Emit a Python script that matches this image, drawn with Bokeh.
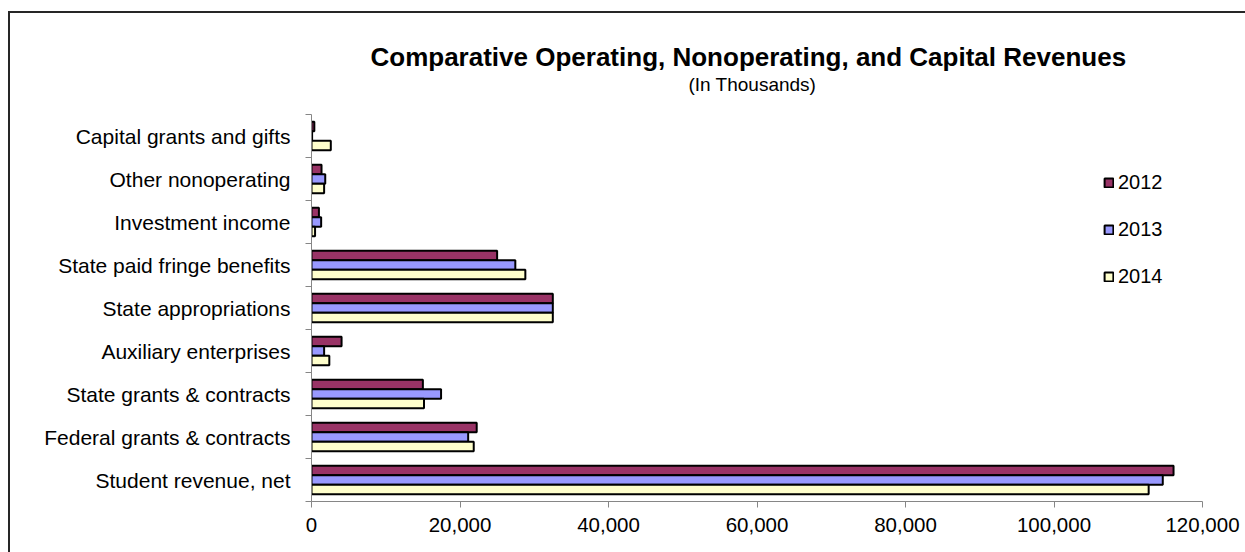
from bokeh.plotting import figure
from bokeh.models import (Range1d, FixedTicker, NumeralTickFormatter, Legend,
                          LegendItem, Title, ColumnDataSource, InlineStyleSheet)
from bokeh.transform import dodge
from bokeh.embed import file_html
from bokeh.resources import INLINE

# Revenue categories, listed from the bottom of the chart to the top
categories = [
    "Student revenue, net",
    "Federal grants & contracts",
    "State grants & contracts",
    "Auxiliary enterprises",
    "State appropriations",
    "State paid fringe benefits",
    "Investment income",
    "Other nonoperating",
    "Capital grants and gifts",
]

# Revenues in thousands of dollars
rev_2012 = [116100, 22250, 15000, 4050, 32500, 25000, 1000, 1350, 380]
rev_2013 = [114650, 21100, 17450, 1700, 32500, 27450, 1300, 1850, 80]
rev_2014 = [112750, 21850, 15150, 2400, 32500, 28800, 480, 1700, 2600]

years = ["2012", "2013", "2014"]
colors = ["#993366", "#9999FF", "#FFFFCC"]
x_ticks = [0, 20000, 40000, 60000, 80000, 100000, 120000]

FONT = "Liberation Sans"
AXIS_GREY = "#868686"

centers = [i + 0.5 for i in range(len(categories))]
source = ColumnDataSource(dict(pos=centers, y2012=rev_2012, y2013=rev_2013, y2014=rev_2014))

p = figure(width=1245, height=552, output_backend="svg", toolbar_location=None,
           title=None,
           x_range=Range1d(0, 120000), y_range=Range1d(0, len(categories)),
           min_border_left=311, min_border_right=43,
           min_border_top=114, min_border_bottom=51)
p.outline_line_color = None
p.xgrid.grid_line_color = None
p.ygrid.grid_line_color = None
p.background_fill_color = "white"
p.border_fill_color = "white"

bar_h = 0.222
renderers = []
for field, offset, color in zip(["y2012", "y2013", "y2014"], [bar_h, 0.0, -bar_h], colors):
    r = p.hbar(y=dodge("pos", offset), left=0, right=field, height=bar_h,
               fill_color=color, line_color="black", line_width=2, source=source)
    renderers.append(r)

# Category axis: names at band centres, tick marks at band boundaries
p.yaxis.ticker = FixedTicker(ticks=centers, minor_ticks=list(range(len(categories) + 1)))
p.yaxis.major_label_overrides = {c: name for c, name in zip(centers, categories)}
p.yaxis.major_tick_line_color = None
p.yaxis.major_tick_out = 0
p.yaxis.major_tick_in = 0
p.yaxis.minor_tick_out = 6
p.yaxis.minor_tick_in = 0
p.yaxis.minor_tick_line_color = AXIS_GREY
p.yaxis.axis_line_color = AXIS_GREY
p.yaxis.major_label_standoff = 15
p.yaxis.major_label_text_font = FONT
p.yaxis.major_label_text_font_size = "21px"
p.yaxis.major_label_text_color = "black"

# Value axis
p.xaxis.ticker = FixedTicker(ticks=x_ticks)
p.xaxis.formatter = NumeralTickFormatter(format="0,0")
p.xaxis.major_tick_out = 6
p.xaxis.major_tick_in = 0
p.xaxis.minor_tick_line_color = None
p.xaxis.major_tick_line_color = AXIS_GREY
p.xaxis.axis_line_color = AXIS_GREY
p.xaxis.major_label_standoff = 10
p.xaxis.major_label_text_font = FONT
p.xaxis.major_label_text_font_size = "20.5px"
p.xaxis.major_label_text_color = "black"

legend = Legend(items=[LegendItem(label=y, renderers=[r]) for y, r in zip(years, renderers)],
                location=(792, 213), orientation="vertical",
                glyph_width=11, glyph_height=11, label_standoff=4,
                spacing=24, padding=0, margin=0, label_height=20,
                border_line_color=None, background_fill_alpha=0,
                label_text_font=FONT, label_text_font_size="20px",
                label_text_color="black")
p.add_layout(legend)

# Heading stack above the plot: blank spacer nearest the plot, then the
# subtitle, then the main title on top
spacer = Title(text=" ", align="left", standoff=17, text_font=FONT,
               text_font_size="1px")
subtitle = Title(text="(In Thousands)", align="left", offset=377, standoff=0,
                 text_font=FONT, text_font_size="19px", text_font_style="normal",
                 text_color="black")
title = Title(text="Comparative Operating, Nonoperating, and Capital Revenues",
              align="left", offset=59, standoff=0,
              text_font=FONT, text_font_size="26px", text_font_style="bold",
              text_color="black")
p.add_layout(spacer, "above")
p.add_layout(subtitle, "above")
p.add_layout(title, "above")

# Chart-area frame line along the left and top edges
frame_css = InlineStyleSheet(css="""
:host::after {
  content: "";
  position: absolute;
  left: 8px;
  top: 11px;
  right: 0;
  bottom: 0;
  border-left: 2px solid #262626;
  border-top: 2px solid #262626;
  pointer-events: none;
}
""")
p.stylesheets = [frame_css]

open("out.html", "w").write(file_html(p, INLINE))
